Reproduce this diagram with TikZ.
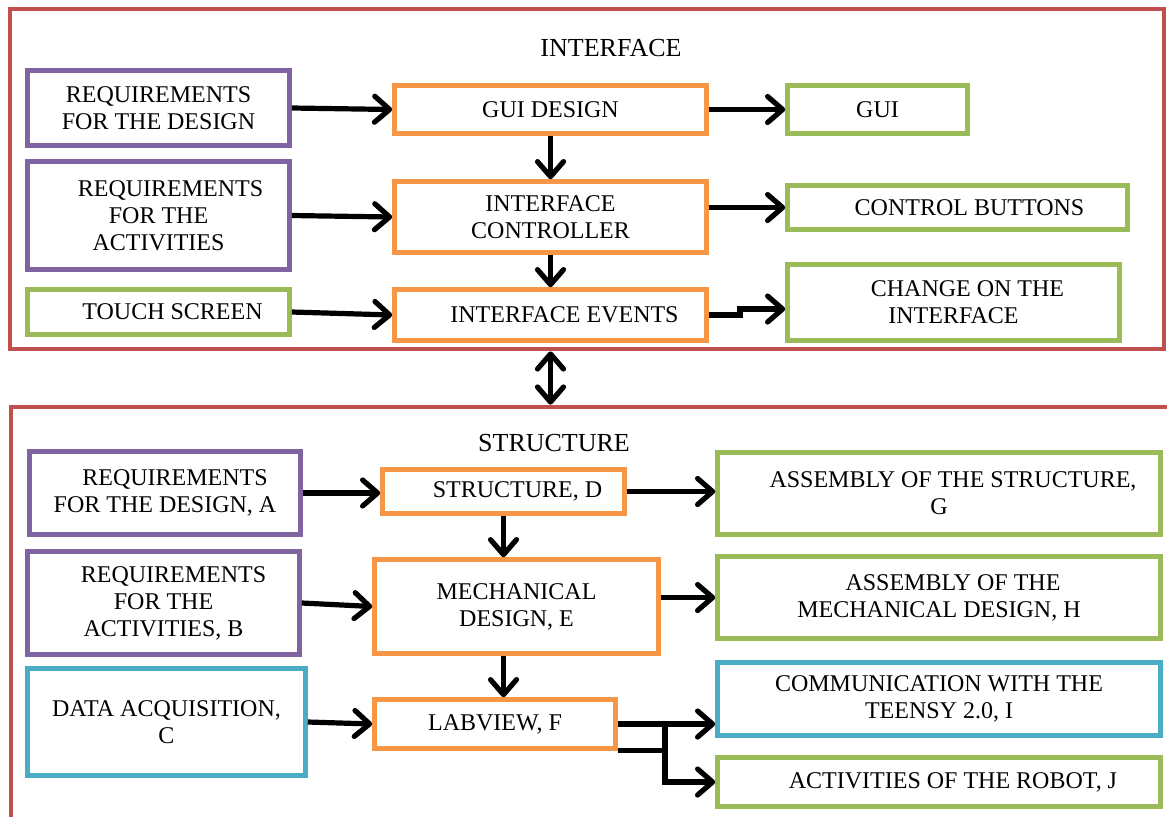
\documentclass[tikz,border=0pt]{standalone}
\usepackage{fontspec}
\setmainfont{Liberation Serif}
\usetikzlibrary{arrows.meta, positioning}

\definecolor{framered}{RGB}{192,80,77}
\definecolor{boxpurple}{RGB}{128,100,162}
\definecolor{boxorange}{RGB}{247,150,70}
\definecolor{boxgreen}{RGB}{155,187,89}
\definecolor{boxcyan}{RGB}{75,172,198}

\tikzset{
  box/.style={draw, line width=2.3pt, fill=white, align=center, inner sep=0pt,
    font=\fontsize{12}{13.5}\selectfont},
  purplebox/.style={box, draw=boxpurple},
  orangebox/.style={box, draw=boxorange},
  greenbox/.style={box, draw=boxgreen},
  cyanbox/.style={box, draw=boxcyan},
  frame/.style={draw=framered, line width=2.4pt, inner sep=0pt},
  title/.style={font=\fontsize{13}{15}\selectfont},
  link/.style={line width=2.6pt},
}

\begin{document}
\begin{tikzpicture}[x=0.5pt, y=-0.5pt, >={Straight Barb[length=7.5pt, width=13pt, round]}]
		\useasboundingbox (0,0) rectangle (1167,816);

		% frames
		\node[frame, minimum width=577pt, minimum height=170pt] (iface) at (587,179) {};
		\node[frame, minimum width=581pt, minimum height=208pt] (struct) at (592,615) {};
		\node[title] (ifacetitle) at (611,48) {INTERFACE};
		\node[title] (structtitle) at (554,443) {STRUCTURE};

		% interface part
		\node[purplebox, minimum width=131pt, minimum height=37.5pt] (reqdesign) at (158.5,108) {REQUIREMENTS\\FOR THE DESIGN};
		\node[purplebox, minimum width=131pt, minimum height=54pt] (reqact) at (158.5,215.5) {\hspace*{12pt}REQUIREMENTS\\FOR THE\\ACTIVITIES};
		\node[greenbox, minimum width=131pt, minimum height=22.5pt] (touch) at (158.5,312) {\hspace*{14pt}TOUCH SCREEN};
		\node[orangebox, minimum width=156pt, minimum height=24pt] (guides) at (550.5,109.5) {GUI DESIGN};
		\node[orangebox, minimum width=156pt, minimum height=35.5pt] (ctrl) at (550.5,217) {INTERFACE\\CONTROLLER};
		\node[orangebox, minimum width=156pt, minimum height=25.5pt] (events) at (550.5,315) {\hspace*{14pt}INTERFACE EVENTS};
		\node[greenbox, minimum width=90pt, minimum height=24pt] (gui) at (877.5,109.5) {GUI};
		\node[greenbox, minimum width=170pt, minimum height=22pt] (buttons) at (957.5,207.5) {\hspace*{12pt}CONTROL BUTTONS};
		\node[greenbox, minimum width=166pt, minimum height=38pt] (change) at (953.5,302.5) {\hspace*{14pt}CHANGE ON THE\\INTERFACE};
		\coordinate (jog) at (740,309);

		\draw[link, ->] (reqdesign.east) -- (guides.west);
		\draw[link, ->] (reqact.east) -- (ctrl.west);
		\draw[link, ->] (touch.east) -- (events.west);
		\draw[link, ->] (guides.east) -- (gui.west);
		\draw[link, ->] (ctrl.east |- buttons.west) -- (buttons.west);
		\draw[link, ->] (events.east) -| (jog) -- (jog -| change.west);
		\draw[link, ->] (guides.south) -- (ctrl.north);
		\draw[link, ->] (ctrl.south) -- (events.north);

		\draw[link, <->] (ctrl.south |- iface.south) -- (ctrl.south |- struct.north);

		% structure part
		\node[purplebox, minimum width=135.5pt, minimum height=41.5pt] (reqA) at (165,493) {\hspace*{10pt}REQUIREMENTS\\FOR THE DESIGN, A};
		\node[purplebox, minimum width=136pt, minimum height=51.5pt] (reqB) at (163.5,603) {\hspace*{10pt}REQUIREMENTS\\FOR THE\\ACTIVITIES, B};
		\node[cyanbox, minimum width=139pt, minimum height=53.5pt] (dataC) at (166.5,722) {DATA ACQUISITION,\\C};
		\node[orangebox, minimum width=121pt, minimum height=22pt] (strD) at (503.5,491.5) {\hspace*{14pt}STRUCTURE, D};
		\node[orangebox, minimum width=142pt, minimum height=47pt] (mechE) at (516.5,606.5) {MECHANICAL\\DESIGN, E};
		\node[orangebox, minimum width=120.5pt, minimum height=24.5pt] (labF) at (495,724) {LABVIEW, F};
		\node[greenbox, minimum width=221.5pt, minimum height=41pt] (asmG) at (939,493.5) {\hspace*{14pt}ASSEMBLY OF THE STRUCTURE,\\G};
		\node[greenbox, minimum width=221.5pt, minimum height=41pt] (asmH) at (939,597.5) {\hspace*{14pt}ASSEMBLY OF THE\\MECHANICAL DESIGN, H};
		\node[cyanbox, minimum width=221.5pt, minimum height=36.5pt] (commI) at (939,699) {COMMUNICATION WITH THE\\TEENSY 2.0, I};
		\node[greenbox, minimum width=221.5pt, minimum height=24.5pt] (actJ) at (939,782) {\hspace*{14pt}ACTIVITIES OF THE ROBOT, J};
		\coordinate (fork) at (665,724);

		\draw[link, ->] (reqA.east) -- (reqA.east -| strD.west);
		\draw[link, ->] (reqB.east) -- (mechE.west);
		\draw[link, ->] (dataC.east) -- (labF.west);
		\draw[link, ->] (strD.east) -- (strD.east -| asmG.west);
		\draw[link, ->] (mechE.east |- asmH.west) -- (asmH.west);
		\draw[link, ->] (labF.east) -- (labF.east -| commI.west);
		\draw[link, ->] (fork) |- (actJ.west);
		\draw[link] (labF.south east) -- (labF.south east -| fork);
		\draw[link, ->] (strD.south) -- (strD.south |- mechE.north);
		\draw[link, ->] (strD.south |- mechE.south) -- (strD.south |- labF.north);
	\end{tikzpicture}
\end{document}
